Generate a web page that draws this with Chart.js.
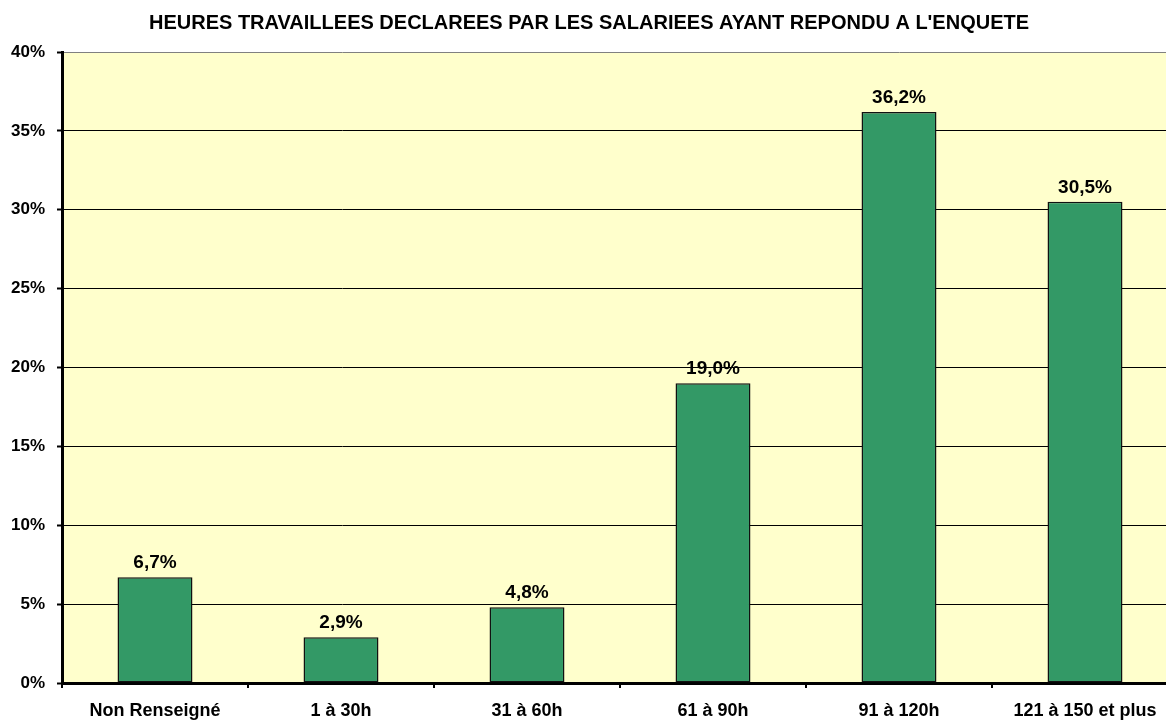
<!DOCTYPE html>
<html>
<head>
<meta charset="utf-8">
<script src="https://cdn.jsdelivr.net/npm/chart.js@4"></script>
<style>
  html, body { margin: 0; padding: 0; background: #fff; overflow: hidden; }
  canvas { display: block; }
</style>
</head>
<body>
<canvas id="chart" width="1178" height="722"></canvas>
<script>
const categories = ["Non Renseigné", "1 à 30h", "31 à 60h", "61 à 90h", "91 à 120h", "121 à 150 et plus"];
const values = [6.7, 2.9, 4.8, 19.0, 36.2, 30.5];
const yTicks = [0, 5, 10, 15, 20, 25, 30, 35, 40];
const title = "HEURES TRAVAILLEES DECLAREES PAR LES SALARIEES AYANT REPONDU A L'ENQUETE";

const FONT = "'Liberation Sans', Arial, sans-serif";

const plotBackground = {
  id: "plotBackground",
  beforeDraw(chart) {
    const { ctx, chartArea } = chart;
    ctx.save();
    ctx.fillStyle = "#fff";
    ctx.fillRect(0, 0, chart.width, chart.height);
    ctx.fillStyle = "#FFFFCC";
    ctx.fillRect(chartArea.left, chartArea.top, chartArea.right - chartArea.left, chartArea.bottom - chartArea.top);
    ctx.restore();
  }
};

const barLabels = {
  id: "barLabels",
  afterDatasetsDraw(chart) {
    const { ctx } = chart;
    const meta = chart.getDatasetMeta(0);
    ctx.save();
    ctx.font = "bold 19px " + FONT;
    ctx.fillStyle = "#000";
    ctx.textAlign = "center";
    ctx.textBaseline = "alphabetic";
    meta.data.forEach((bar, i) => {
      const txt = values[i].toFixed(1).replace(".", ",") + "%";
      ctx.fillText(txt, bar.x, bar.y - 9);
    });
    ctx.restore();
  }
};

new Chart(document.getElementById("chart").getContext("2d"), {
  type: "bar",
  data: {
    labels: categories,
    datasets: [{
      data: values,
      backgroundColor: "#339966",
      borderColor: "#111",
      borderWidth: 1.5,
      borderSkipped: false,
      categoryPercentage: 1,
      barPercentage: 0.403
    }]
  },
  options: {
    responsive: false,
    animation: false,
    layout: { padding: { left: 0, right: 0, top: 0, bottom: 0 } },
    plugins: {
      legend: { display: false },
      tooltip: { enabled: false },
      title: {
        display: true,
        text: title,
        color: "#000",
        font: { family: FONT, size: 20, weight: "bold" },
        padding: { top: 11, bottom: 17 }
      }
    },
    scales: {
      x: {
        grid: {
          offset: true,
          drawOnChartArea: false,
          drawTicks: true,
          tickLength: 5,
          color: "#000",
          lineWidth: 2
        },
        border: { color: "#000", width: 3 },
        ticks: {
          color: "#000",
          padding: 12,
          maxRotation: 0,
          font: { family: FONT, size: 18, weight: "bold" }
        },
        afterFit(scale) { scale.height = 39; }
      },
      y: {
        min: 0,
        max: 40,
        afterBuildTicks(scale) { scale.ticks = yTicks.map(v => ({ value: v })); },
        grid: {
          color: (c) => (c.tick && c.tick.value === 40 ? "#808080" : "#000"),
          lineWidth: 1,
          tickLength: 5,
          tickColor: "#000",
          tickWidth: 2
        },
        border: { color: "#000", width: 3 },
        ticks: {
          color: "#000",
          padding: 12,
          callback: (v) => v + "%",
          font: { family: FONT, size: 17, weight: "bold" }
        },
        afterFit(scale) { scale.width = 62; }
      }
    }
  },
  plugins: [plotBackground, barLabels]
});
</script>
</body>
</html>
